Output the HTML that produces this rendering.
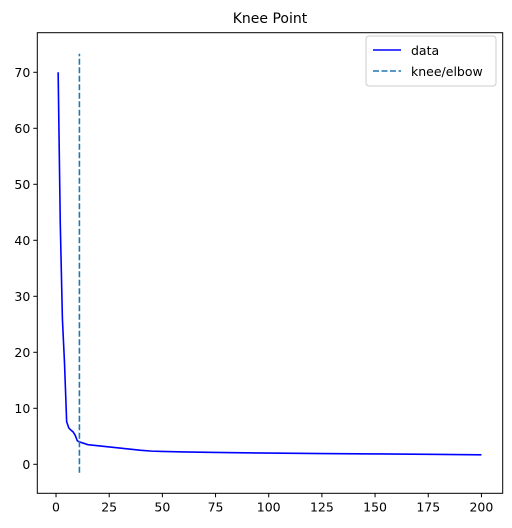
<!DOCTYPE html>
<html><head><meta charset="utf-8"><style>
html,body{margin:0;padding:0;background:#fff;}
svg{display:block;font-family:"DejaVu Sans","Liberation Sans",sans-serif;}
</style></head><body>
<svg id="chart" width="512" height="528">
<text x="270" y="23" font-size="14" text-anchor="middle">Knee Point</text>
<g id="plot"></g>
<g id="legend">
<rect x="366" y="36" width="130" height="50" fill="#fff" stroke="#ccc" rx="3"/>
<line x1="373" y1="50" x2="401" y2="50" stroke="#0000ff" stroke-width="1.6"/>
<text x="411" y="55" font-size="12.5">data</text>
<line x1="373" y1="71" x2="401" y2="71" stroke="#1f77b4" stroke-width="1.6" stroke-dasharray="6,2.5"/>
<text x="411" y="76" font-size="12.5">knee/elbow</text>
</g>
</svg>
<script>
const xs = [1,2,3,4,5,6,7,8,9,10,11,15,20,25,30,35,40,45,50,60,75,100,125,150,175,200];
const ys = [70,43,26,18,7.6,6.5,6.1,5.8,5.2,4.2,4.0,3.5,3.3,3.1,2.9,2.7,2.5,2.35,2.3,2.2,2.12,2.0,1.92,1.85,1.78,1.7];
const kneeX = 11;
const kneeYRange = [-1.5, 73.3];
const xTicks = [0,25,50,75,100,125,150,175,200];
const yTicks = [0,10,20,30,40,50,60,70];

const L=37.3,R=502.7,T=32.7,B=493.3;
const xmin=-8.8,xmax=210,ymin=-5.18,ymax=77.07;
const sx=v=>L+(v-xmin)/(xmax-xmin)*(R-L);
const sy=v=>B-(v-ymin)/(ymax-ymin)*(B-T);
const NS='http://www.w3.org/2000/svg';
const g=document.getElementById('plot');
function mk(t,a){const e=document.createElementNS(NS,t);for(const k in a)e.setAttribute(k,a[k]);g.appendChild(e);return e;}

xTicks.forEach(v=>{
  const t=mk('line',{x1:sx(v),x2:sx(v),y1:B,y2:B+4,stroke:'#000'});
  
  
  const l=mk('text',{x:sx(v),y:B+18,'font-size':12.5,'text-anchor':'middle'});
  l.textContent=v;
  
  
});
yTicks.forEach(v=>{
  const t=mk('line',{x1:L-4,x2:L,y1:sy(v),y2:sy(v),stroke:'#000'});
  
  
  const l=mk('text',{x:L-7,y:sy(v)+4.5,'font-size':12.5,'text-anchor':'end'});
  l.textContent=v;
  
  
});

const p=mk('polyline',{points:xs.map((x,i)=>sx(x)+','+sy(ys[i])).join(' '),fill:'none',stroke:'#0000ff','stroke-width':1.6,'stroke-linejoin':'round'});



const k=mk('line',{x1:sx(kneeX),x2:sx(kneeX),y1:sy(kneeYRange[0]),y2:sy(kneeYRange[1]),stroke:'#1f77b4','stroke-width':1.6,'stroke-dasharray':'6,2.5'});



const f=mk('rect',{x:L,y:T,width:R-L,height:B-T,fill:'none',stroke:'#000','stroke-width':1});


</script>
</body></html>
